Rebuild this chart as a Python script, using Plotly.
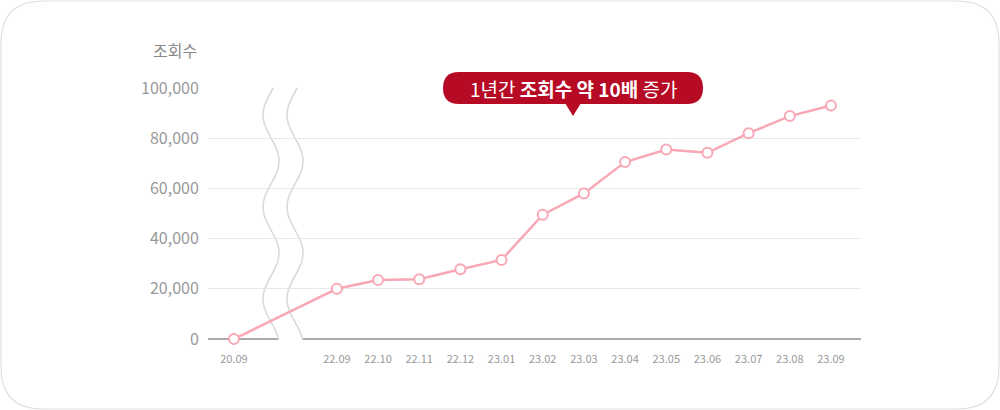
import numpy as np
import plotly.graph_objects as go

# data
months = ["20.09", "22.09", "22.10", "22.11", "22.12", "23.01", "23.02",
          "23.03", "23.04", "23.05", "23.06", "23.07", "23.08", "23.09"]
views = [0, 20000, 23500, 23800, 27800, 31500, 49500,
         58000, 70500, 75500, 74200, 82000, 88800, 93000]
y_ticks = [0, 20000, 40000, 60000, 80000, 100000]

# x slots: first month, then a broken gap, then consecutive months
xpos = [0] + [2.5 + i for i in range(len(months) - 1)]

W, H = 1000, 410
L, R, T, B = 208, 861, 88, 339          # plot area in pixels
X0, X1 = -0.63, 15.23


def px(x):
    return (x - L) / (R - L)


def py(y):
    return (B - y) / (B - T)


def rounded(x0, y0, x1, y1, r):
    pts = [f"M {px(x0 + r)},{py(y0)}", f"L {px(x1 - r)},{py(y0)}",
           f"Q {px(x1)},{py(y0)} {px(x1)},{py(y0 + r)}", f"L {px(x1)},{py(y1 - r)}",
           f"Q {px(x1)},{py(y1)} {px(x1 - r)},{py(y1)}", f"L {px(x0 + r)},{py(y1)}",
           f"Q {px(x0)},{py(y1)} {px(x0)},{py(y1 - r)}", f"L {px(x0)},{py(y0 + r)}",
           f"Q {px(x0)},{py(y0)} {px(x0 + r)},{py(y0)}", "Z"]
    return " ".join(pts)


def wave(cx, ys):
    return [(cx + 8 * np.sin(2 * np.pi * (y - 46) / 92), y) for y in ys]


ys = np.linspace(88, 340, 80)
left = wave(271, ys)
right = wave(295, ys)

def path_of(points, close=False):
    s = "M " + " L ".join(f"{px(x)},{py(y)}" for x, y in points)
    return s + (" Z" if close else "")


fig = go.Figure()
fig.add_trace(go.Scatter(
    x=xpos, y=views, mode="lines+markers", cliponaxis=False,
    line=dict(color="#f8a8b5", width=2.5),
    marker=dict(size=10, color="white", line=dict(color="#f8a8b5", width=2)),
    hoverinfo="skip"))

shapes = [
    # card border
    dict(type="path", xref="paper", yref="paper", layer="below",
         path=rounded(1, 1, 999, 409, 42), line=dict(color="#e0e0e0", width=1.2)),
    # baseline
    dict(type="line", xref="paper", yref="paper", layer="between",
         x0=px(208), x1=px(861), y0=0, y1=0, line=dict(color="#aaaaaa", width=2)),
    # break mask
    dict(type="path", xref="paper", yref="paper", layer="between",
         path=path_of(left + right[::-1], close=True), fillcolor="white",
         line=dict(width=0)),
    dict(type="path", xref="paper", yref="paper", layer="between",
         path=path_of(left), line=dict(color="#dadada", width=1.6)),
    dict(type="path", xref="paper", yref="paper", layer="between",
         path=path_of(right), line=dict(color="#dadada", width=1.6)),
    # callout
    dict(type="path", xref="paper", yref="paper", layer="above",
         path=rounded(443, 72, 703, 104, 16), fillcolor="#b70a24", line=dict(width=0)),
    dict(type="path", xref="paper", yref="paper", layer="above",
         path=f"M {px(565)},{py(103)} L {px(581)},{py(103)} L {px(573)},{py(116)} Z",
         fillcolor="#b70a24", line=dict(width=0)),
]

annotations = [
    dict(xref="paper", yref="paper", x=px(573), y=py(88), showarrow=False,
         xanchor="center", yanchor="middle",
         text="1년간 <b>조회수 약 10배</b> 증가",
         font=dict(size=19, color="white", family="Noto Sans CJK KR")),
    dict(xref="paper", yref="paper", x=px(199), y=py(50), xanchor="right",
         yanchor="middle", showarrow=False, text="조회수",
         font=dict(size=16, color="#888888", family="Noto Sans CJK KR")),
]

fig.update_layout(
    width=W, height=H, paper_bgcolor="white", plot_bgcolor="white",
    margin=dict(l=L, r=W - R, t=T, b=H - B),
    showlegend=False, shapes=shapes, annotations=annotations,
    font=dict(family="Noto Sans CJK KR", color="#999999"),
)
fig.update_xaxes(range=[X0, X1], tickvals=xpos, ticktext=months,
                 tickfont=dict(size=11, color="#999999"),
                 ticks="outside", ticklen=10, tickcolor="rgba(0,0,0,0)",
                 showgrid=False, zeroline=False, showline=False, fixedrange=True)
fig.update_yaxes(range=[0, 100000], tickvals=y_ticks, tickformat=",",
                 tickfont=dict(size=16, color="#999999"),
                 ticks="outside", ticklen=5, tickcolor="rgba(0,0,0,0)",
                 showgrid=True, gridcolor="#e8e8e8", gridwidth=1,
                 zeroline=False, showline=False, fixedrange=True)

fig.write_html("out.html", config={"displayModeBar": False},
               post_script="document.body.style.margin='0px';")
